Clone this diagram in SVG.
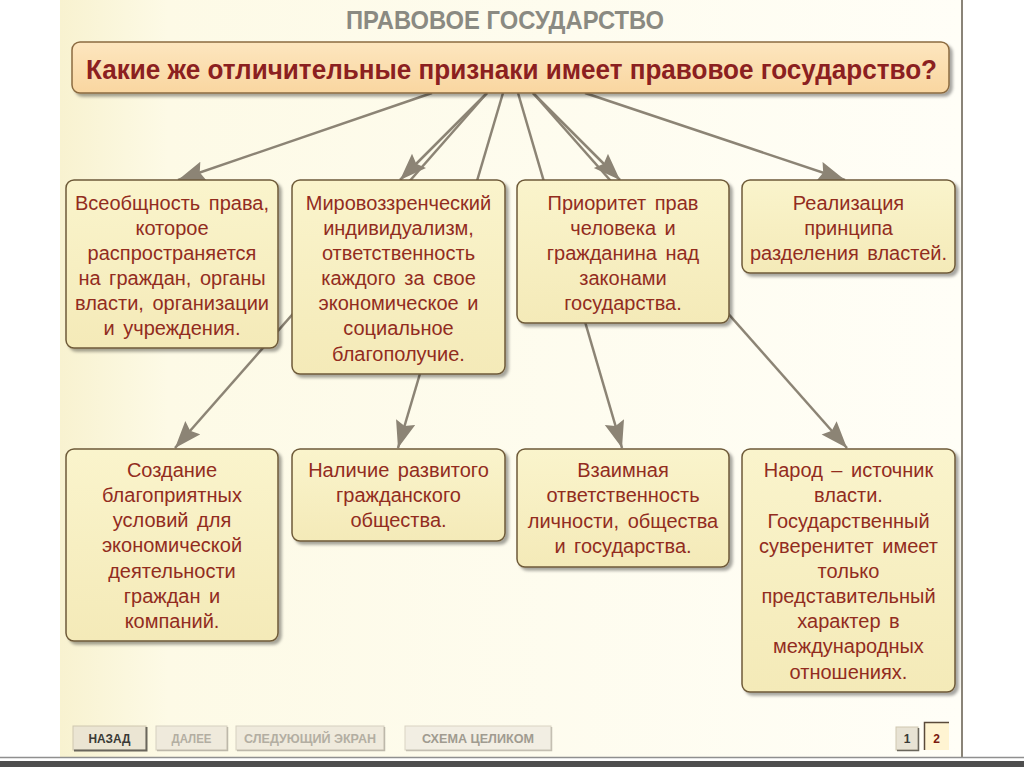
<svg xmlns="http://www.w3.org/2000/svg" width="1024" height="767" viewBox="0 0 1024 767">
<defs>
<linearGradient id="bg" x1="0" y1="0" x2="1" y2="0">
<stop offset="0" stop-color="#f8f2d0"/>
<stop offset="0.12" stop-color="#fdfae6"/>
<stop offset="1" stop-color="#fffef7"/>
</linearGradient>
<linearGradient id="boxfill" x1="0" y1="0" x2="0" y2="1">
<stop offset="0" stop-color="#faf4cc"/>
<stop offset="1" stop-color="#f4eab8"/>
</linearGradient>
<linearGradient id="topfill" x1="0" y1="0" x2="0" y2="1">
<stop offset="0" stop-color="#fde6bf"/>
<stop offset="1" stop-color="#f9d6a0"/>
</linearGradient>
<filter id="sh" x="-10%" y="-10%" width="130%" height="130%">
<feDropShadow dx="3" dy="3" stdDeviation="1.8" flood-color="#000" flood-opacity="0.35"/>
</filter>
<marker id="ah" markerUnits="userSpaceOnUse" markerWidth="30" markerHeight="22" refX="27" refY="10" orient="auto">
<path d="M0,0 L27,10 L0,20 L4,10 z" fill="#8c8475"/>
</marker>
<style>
.box{fill:url(#boxfill);stroke:#6e5a38;stroke-width:1.5;filter:url(#sh)}
.t{font-family:"Liberation Sans",Arial,sans-serif;font-size:20px;fill:#922c1e;text-anchor:middle;word-spacing:3px}
.c{stroke:#8c8475;stroke-width:2.5;fill:none;marker-end:url(#ah)}
.btn{font-family:"Liberation Sans Narrow","Liberation Sans",Arial,sans-serif;font-weight:bold;font-size:12px;text-anchor:middle}
</style>
</defs>
<rect x="0" y="0" width="1024" height="767" fill="#ffffff"/>
<rect x="60" y="0" width="902" height="757" fill="url(#bg)"/>
<line x1="962" y1="0" x2="962" y2="757" stroke="#8a8478" stroke-width="2"/>
<line x1="0" y1="757.5" x2="1024" y2="757.5" stroke="#8f8f8f" stroke-width="1.5"/>
<rect x="0" y="761" width="1024" height="6" fill="#4e4e4e"/>

<text x="505" y="29" font-family="Liberation Sans Narrow,Liberation Sans,Arial,sans-serif" font-weight="bold" font-size="25" fill="#8a8a82" text-anchor="middle" textLength="318" lengthAdjust="spacingAndGlyphs">ПРАВОВОЕ ГОСУДАРСТВО</text>

<g id="connectors">
<line class="c" x1="432" y1="93" x2="178" y2="180"/>
<line class="c" x1="487" y1="93" x2="400" y2="180"/>
<line class="c" x1="487" y1="93" x2="175" y2="448"/>
<line class="c" x1="503" y1="93" x2="398" y2="448"/>
<line class="c" x1="518" y1="93" x2="622" y2="448"/>
<line class="c" x1="533" y1="93" x2="620" y2="180"/>
<line class="c" x1="533" y1="93" x2="847" y2="448"/>
<line class="c" x1="585" y1="93" x2="845" y2="180"/>
</g>

<g id="top">
<rect x="72" y="42" width="877" height="51" rx="8" fill="url(#topfill)" stroke="#8b6b40" stroke-width="1.5" filter="url(#sh)"/>
<text x="511.5" y="79" font-family="Liberation Sans Narrow,Liberation Sans,Arial,sans-serif" font-weight="bold" font-size="27" fill="#8b2020" text-anchor="middle" textLength="851" lengthAdjust="spacingAndGlyphs">Какие же отличительные признаки имеет правовое государство?</text>
</g>

<g id="n1">
<rect class="box" x="66" y="180" width="212" height="168" rx="8"/>
<text class="t"><tspan x="172" y="210">Всеобщность права,</tspan><tspan x="172" y="235">которое</tspan><tspan x="172" y="260">распространяется</tspan><tspan x="172" y="285">на граждан, органы</tspan><tspan x="172" y="310">власти, организации</tspan><tspan x="172" y="335">и учреждения.</tspan></text>
</g>
<g id="n2">
<rect class="box" x="292" y="180" width="213" height="194" rx="8"/>
<text class="t"><tspan x="398.5" y="210">Мировоззренческий</tspan><tspan x="398.5" y="235">индивидуализм,</tspan><tspan x="398.5" y="260">ответственность</tspan><tspan x="398.5" y="285">каждого за свое</tspan><tspan x="398.5" y="310">экономическое и</tspan><tspan x="398.5" y="335">социальное</tspan><tspan x="398.5" y="361">благополучие.</tspan></text>
</g>
<g id="n3">
<rect class="box" x="517" y="180" width="212" height="143" rx="8"/>
<text class="t"><tspan x="623" y="210">Приоритет прав</tspan><tspan x="623" y="235">человека и</tspan><tspan x="623" y="260">гражданина над</tspan><tspan x="623" y="285">законами</tspan><tspan x="623" y="310">государства.</tspan></text>
</g>
<g id="n4">
<rect class="box" x="742" y="180" width="213" height="93" rx="8"/>
<text class="t"><tspan x="848.5" y="210">Реализация</tspan><tspan x="848.5" y="235">принципа</tspan><tspan x="848.5" y="260">разделения властей.</tspan></text>
</g>

<g id="n5">
<rect class="box" x="66" y="449" width="212" height="192" rx="8"/>
<text class="t"><tspan x="172" y="477">Создание</tspan><tspan x="172" y="502">благоприятных</tspan><tspan x="172" y="527">условий для</tspan><tspan x="172" y="552">экономической</tspan><tspan x="172" y="578">деятельности</tspan><tspan x="172" y="603">граждан и</tspan><tspan x="172" y="628">компаний.</tspan></text>
</g>
<g id="n6">
<rect class="box" x="292" y="449" width="213" height="92" rx="8"/>
<text class="t"><tspan x="398.5" y="477">Наличие развитого</tspan><tspan x="398.5" y="502">гражданского</tspan><tspan x="398.5" y="527">общества.</tspan></text>
</g>
<g id="n7">
<rect class="box" x="517" y="449" width="212" height="118" rx="8"/>
<text class="t"><tspan x="623" y="477">Взаимная</tspan><tspan x="623" y="502">ответственность</tspan><tspan x="623" y="528">личности, общества</tspan><tspan x="623" y="553">и государства.</tspan></text>
</g>
<g id="n8">
<rect class="box" x="742" y="449" width="213" height="243" rx="8"/>
<text class="t"><tspan x="848.5" y="477">Народ – источник</tspan><tspan x="848.5" y="502">власти.</tspan><tspan x="848.5" y="528">Государственный</tspan><tspan x="848.5" y="553">суверенитет имеет</tspan><tspan x="848.5" y="578">только</tspan><tspan x="848.5" y="603">представительный</tspan><tspan x="848.5" y="628">характер в</tspan><tspan x="848.5" y="653">международных</tspan><tspan x="848.5" y="679">отношениях.</tspan></text>
</g>

<g id="buttons">
<rect x="73" y="726" width="73" height="24" fill="#ebe5d3" stroke="#cfc7b0" stroke-width="1"/>
<path d="M74,750.5 H146.5 V727" stroke="#6a665c" stroke-width="2" fill="none"/>
<text class="btn" x="109.5" y="743" fill="#3a3a36" textLength="42" lengthAdjust="spacingAndGlyphs">НАЗАД</text>
<rect x="156" y="726" width="71" height="24" fill="#efeadc" stroke="#d6d0bf" stroke-width="1"/>
<path d="M157,750.5 H227.5 V727" stroke="#bdb8aa" stroke-width="1.5" fill="none"/>
<text class="btn" x="191.5" y="743" fill="#b3aea2" textLength="40" lengthAdjust="spacingAndGlyphs">ДАЛЕЕ</text>
<rect x="236" y="726" width="148" height="24" fill="#efeadc" stroke="#d6d0bf" stroke-width="1"/>
<path d="M237,750.5 H384.5 V727" stroke="#bdb8aa" stroke-width="1.5" fill="none"/>
<text class="btn" x="310" y="743" fill="#b3aea2" textLength="132" lengthAdjust="spacingAndGlyphs">СЛЕДУЮЩИЙ ЭКРАН</text>
<rect x="405" y="726" width="146" height="24" fill="#f2eee3" stroke="#d9d3c3" stroke-width="1"/>
<path d="M406,750.5 H551.5 V727" stroke="#c4bfb2" stroke-width="1.5" fill="none"/>
<text class="btn" x="478" y="743" fill="#a09b90" textLength="112" lengthAdjust="spacingAndGlyphs">СХЕМА ЦЕЛИКОМ</text>
<rect x="896" y="727" width="22" height="23" fill="#e8e3d4" stroke="#cfc7b0" stroke-width="1"/>
<path d="M897,750.5 H918.5 V728" stroke="#6a665c" stroke-width="1.5" fill="none"/>
<text class="btn" x="907" y="743" fill="#3a3a36">1</text>
<rect x="924" y="722" width="25" height="28" fill="#fff4d2"/>
<path d="M924.5,750 V722.5 H949" stroke="#5a4a3a" stroke-width="1.5" fill="none"/>
<text class="btn" x="936.5" y="743" fill="#7a1a10">2</text>
</g>
</svg>
